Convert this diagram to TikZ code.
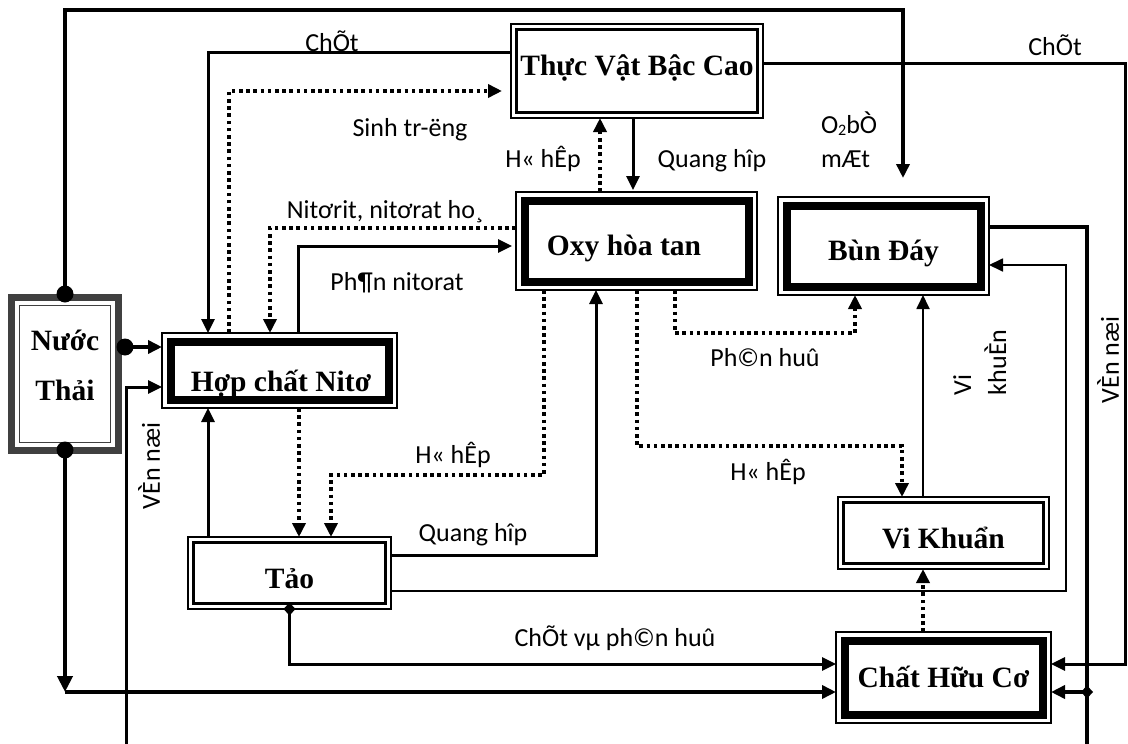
\documentclass[tikz,border=0pt]{standalone}
\usepackage{fontspec}
\setmainfont{Liberation Serif}
\newfontfamily\labfont{Carlito}
\usetikzlibrary{arrows.meta}
\definecolor{ntgrey}{HTML}{404040}

% thin outer rule + heavy inner rule
\newcommand{\heavyframe}[1]{%
  \draw[line width=1.5pt] (#1.north west) rectangle (#1.south east);
  \draw[line width=8pt] ([xshift=8.5pt,yshift=-8.5pt]#1.north west) rectangle ([xshift=-8.5pt,yshift=8.5pt]#1.south east);}
% two thin rules
\newcommand{\twinframe}[2]{%
  \draw[line width=1.5pt] (#1.north west) rectangle (#1.south east);
  \draw[line width=2.8pt] ([xshift=#2,yshift=-#2]#1.north west) rectangle ([xshift=-#2,yshift=#2]#1.south east);}
% grey band with a fine grey rule inside
\newcommand{\greyframe}[1]{%
  \draw[ntgrey,line width=7pt] ([xshift=3.5pt,yshift=-3.5pt]#1.north west) rectangle ([xshift=-3.5pt,yshift=3.5pt]#1.south east);
  \draw[ntgrey,line width=1.7pt] ([xshift=11.5pt,yshift=-11.5pt]#1.north west) rectangle ([xshift=-11.5pt,yshift=11.5pt]#1.south east);}

\begin{document}
\begin{tikzpicture}[x=1pt,y=-1pt,line join=miter,
  every node/.style={inner sep=0pt,outer sep=0pt},
  bx/.style={font=\bfseries\fontsize{29.5}{35}\selectfont,text height=20pt,text depth=0pt},
  lbl/.style={font=\labfont\fontsize{26}{31}\selectfont},
  thk/.style={line width=4.5pt},
  med/.style={line width=3pt},
  thn/.style={line width=1.8pt},
  dotline/.style={line width=3.6pt,dash pattern=on 3.6pt off 3.6pt},
  arr/.style={-{Triangle[length=14pt,width=13pt]}},
  bigarr/.style={-{Triangle[length=16pt,width=15pt]}}]

\fill[white] (0,0) rectangle (1128,744);
\useasboundingbox (0,0) rectangle (1128,744);

% ---------- boxes ----------
\node[minimum width=252pt,minimum height=94pt,
  label={[bx,yshift=6pt]center:Thực Vật Bậc Cao}] (tv) at (637,71) {};
\node[minimum width=241pt,minimum height=98pt,
  label={[bx,xshift=-12.5pt,yshift=-4pt]center:Oxy hòa tan}] (ox) at (636.5,241) {};
\node[minimum width=211pt,minimum height=98pt,
  label={[bx,yshift=-4pt]center:Bùn Đáy}] (bd) at (883.5,246) {};
\node[minimum width=235pt,minimum height=75pt,
  label={[bx,xshift=1.5pt,yshift=-10.5pt]center:Hợp chất Nitơ}] (hn) at (279.5,370.5) {};
\node[minimum width=114pt,minimum height=160pt,
  label={[bx,yshift=34pt]center:Nước},
  label={[bx,yshift=-16pt]center:Thải}] (nt) at (65,374) {};
\node[minimum width=203pt,minimum height=72pt,
  label={[bx,yshift=-5pt]center:Tảo}] (ta) at (289.5,573) {};
\node[minimum width=211pt,minimum height=72pt,
  label={[bx,yshift=-5pt]center:Vi Khuẩn}] (vk) at (943.5,533) {};
\node[minimum width=215pt,minimum height=91pt,
  label={[bx]center:Chất Hữu Cơ}] (chc) at (943.5,677.5) {};

\twinframe{tv}{5.5pt}
\heavyframe{ox}
\heavyframe{bd}
\heavyframe{hn}
\greyframe{nt}
\twinframe{ta}{5.5pt}
\twinframe{vk}{5.5pt}
\heavyframe{chc}

% ---------- bend points ----------
\coordinate (c1) at (65,10);
\coordinate (c2) at (903,10);
\coordinate (c3) at ([xshift=3pt,yshift=27pt]nt.east);
\coordinate (c4) at (65,692);
\coordinate (c5) at (126,744);
\coordinate (c6) at (126,387);
\coordinate (c7) at (208,52);
\coordinate (c8) at (229,91);
\coordinate (c9) at (633,150);
\coordinate (c10) at (600,150);
\coordinate (c11) at (1125,63);
\coordinate (c12) at (1125,664);
\coordinate (c13) at (1087,227);
\coordinate (c14) at (1087,692);
\coordinate (c15) at (1087,744);
\coordinate (c16) at (1066,591);
\coordinate (c17) at (1066,265);
\coordinate (c18) at (544,475);
\coordinate (c19) at (331,475);
\coordinate (c20) at (596,555);
\coordinate (c21) at (637,446);
\coordinate (c22) at (902,446);
\coordinate (c23) at (675,333);
\coordinate (c24) at (855,333);
\coordinate (c25) at (923,400);
\coordinate (c26) at (923,600);
\coordinate (c27) at (0,664);
\coordinate (c28) at (270,228);
\coordinate (c29) at (298,246);
\coordinate (c30) at (299,470);
\coordinate (c31) at (208,470);

% ---------- waste water feeds ----------
\draw[thk,arr,shorten >=19pt] (nt.north) -- (c1) -- (c2) -- (c2 |- bd.north);
\draw[thk,arr] (c3) -- (c3 -| hn.west);
\draw[thk,bigarr] ([yshift=4pt]nt.south) -- (c4);
\draw[thk,arr] (c4) -- (c4 -| chc.west);
\fill (nt.north) circle (8.5pt);
\fill (c3) circle (8.5pt);
\fill ([yshift=4pt]nt.south) circle (8.5pt);

% ---------- solid flows ----------
\draw[med,arr] (c5) -- (c6) -- (c6 -| hn.west);
\draw[med,arr] (tv.west |- c7) -- (c7) -- (c7 |- hn.north);
\draw[med,arr,shorten >=2pt] (c9 |- tv.south) -- (c9 |- ox.north);
\draw[med,arr] (tv.east |- c11) -- (c11) -- (c12) -- (c12 -| chc.east);
\draw[thk] (bd.east |- c13) -- (c13) -- (c15);
\draw[thk,arr] (c14) -- (c14 -| chc.east);
\draw[thn,arr] (ta.east |- c16) -- (c16) -- (c17) -- (c17 -| bd.east);
\draw[med,arr] (ta.east |- c20) -- (c20) -- (c20 |- ox.south);
\draw[thn,arr] (c25 |- vk.north) -- (c25 |- bd.south);
\draw[med,arr] (ta.south) -- (ta.south |- c27) -- (c27 -| chc.west);
\draw[med,arr,shorten >=4pt] (c29 |- hn.north) -- (c29) -- (c29 -| ox.west);
\draw[med,arr] (c31 |- ta.north) -- (c31 |- hn.south);
\fill (ta.south) +(0,-6.5pt) -- +(6pt,0) -- +(0,6.5pt) -- +(-6pt,0) -- cycle;
\fill (c14) +(0,-6.5pt) -- +(6pt,0) -- +(0,6.5pt) -- +(-6pt,0) -- cycle;

% ---------- dotted flows ----------
\draw[dotline,arr,shorten >=9pt] (c8 |- hn.north) -- (c8) -- (c8 -| tv.west);
\draw[dotline,arr] (c10 |- ox.north) -- (c10 |- tv.south);
\draw[dotline,arr] (c18 |- ox.south) -- (c18) -- (c19) -- (c19 |- ta.north);
\draw[dotline,arr] (c21 |- ox.south) -- (c21) -- (c22) -- (c22 |- vk.north);
\draw[dotline,arr] (c23 |- ox.south) -- (c23) -- (c24) -- (c24 |- bd.south);
\draw[dotline,arr] (c26 |- chc.north) -- (c26 |- vk.south);
\draw[dotline,arr] (ox.west |- c28) -- (c28) -- (c28 |- hn.north);
\draw[dotline,arr] (c30 |- hn.south) -- (c30 |- ta.north);

% ---------- labels ----------
\node[lbl,anchor=base] (l1) at (332,51) {ChÕt};
\node[lbl,anchor=base] (l2) at (410,136) {Sinh tr-ëng};
\node[lbl,anchor=base] (l3) at (543,167) {H« hÊp};
\node[lbl,anchor=base] (l4) at (712,167) {Quang hîp};
\node[lbl,anchor=base west] (l5) at (821,133) {O\raisebox{-2pt}{\fontsize{16}{16}\selectfont 2}bÒ};
\node[lbl,anchor=base west] (l6) at (821,167) {mÆt};
\node[lbl,anchor=base] (l7) at (1055,55) {ChÕt};
\node[lbl,anchor=base] (l8) at (385,218) {Nitơrit, nitơrat ho¸};
\node[lbl,anchor=base] (l9) at (397,290) {Ph¶n nitorat};
\node[lbl,anchor=base] (l10) at (765,366) {Ph©n huû};
\node[lbl,anchor=base west,rotate=90] (l11) at (971,395) {Vi};
\node[lbl,anchor=base west,rotate=90] (l12) at (1006,395) {khuÈn};
\node[lbl,rotate=90] (l13) at (1108,360) {VÈn næi};
\node[lbl,rotate=90] (l14) at (149,466) {VÈn næi};
\node[lbl,anchor=base] (l15) at (453,463) {H« hÊp};
\node[lbl,anchor=base] (l16) at (768,480) {H« hÊp};
\node[lbl,anchor=base] (l17) at (473,541) {Quang hîp};
\node[lbl,anchor=base] (l18) at (615,646) {ChÕt vµ ph©n huû};

\end{tikzpicture}
\end{document}
